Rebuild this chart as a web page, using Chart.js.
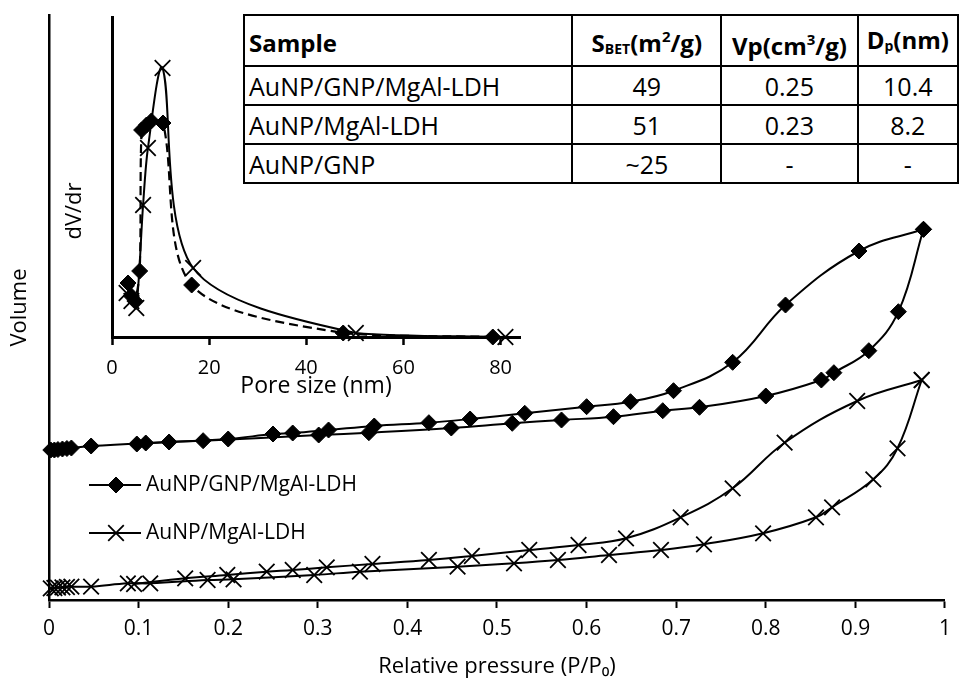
<!DOCTYPE html>
<html>
<head>
<meta charset="utf-8">
<script src="https://cdn.jsdelivr.net/npm/chart.js@4.4.0/dist/chart.umd.min.js"></script>
<style>
  html, body { margin: 0; padding: 0; background: #fff; }
  #marco { position: relative; width: 959px; height: 680px; font-family: "Open Sans", sans-serif; }
  canvas { position: absolute; left: 0; top: 0; }
  #tablaBET {
    position: absolute; left: 243px; top: 14px;
    border-collapse: collapse; background: #fff; color: #000;
    font-family: "Open Sans", sans-serif; font-size: 25px;
  }
  #tablaBET td { border: 2.5px solid #000; padding: 0 4px; height: 37px; line-height: 30px; text-align: center; white-space: nowrap; }
  #tablaBET td:first-child { text-align: left; }
  #tablaBET tr:first-child td { font-weight: bold; font-size: 24px; height: 45px; padding-top: 4px; }
  #tablaBET sub { font-size: 14px; vertical-align: -2px; }
  #tablaBET sup { font-size: 15px; vertical-align: 10px; }
</style>
</head>
<body>
<div id="marco">
  <canvas id="graficaIsoterma" width="959" height="680"></canvas>
  <canvas id="graficaPoros" width="540" height="400"></canvas>
  <table id="tablaBET">
    <tr><td style="width:323px">Sample</td><td style="width:141px">S<sub>BET</sub>(m<sup>2</sup>/g)</td><td style="width:127px">Vp(cm<sup>3</sup>/g)</td><td style="width:91px">D<sub>p</sub>(nm)</td></tr>
    <tr><td>AuNP/GNP/MgAl-LDH</td><td>49</td><td>0.25</td><td>10.4</td></tr>
    <tr><td>AuNP/MgAl-LDH</td><td>51</td><td>0.23</td><td>8.2</td></tr>
    <tr><td>AuNP/GNP</td><td>~25</td><td>-</td><td>-</td></tr>
  </table>
</div>
<script>
/**
 * Isotermas N2 + distribucion de poros
 */

const muestras = ['AuNP/GNP/MgAl-LDH', 'AuNP/MgAl-LDH'];

// isoterma AuNP/GNP/MgAl-LDH (adsorcion y desorcion)
const presionGNPads = [0.002, 0.006, 0.010, 0.015, 0.020, 0.025, 0.047, 0.108, 0.172, 0.301, 0.357, 0.449, 0.517, 0.572, 0.630, 0.685, 0.726, 0.800, 0.862, 0.876, 0.915, 0.948, 0.976];
const volGNPads = [150, 150, 150.5, 151, 151.5, 152, 154, 157, 159.3, 165, 167.3, 172, 176.7, 180, 183.3, 189.3, 192.7, 204, 220, 227.3, 249.3, 288.3, 370.7];
const presionGNPdes = [0.904, 0.822, 0.763, 0.697, 0.649, 0.600, 0.531, 0.470, 0.424, 0.363, 0.312, 0.272, 0.250, 0.200, 0.134, 0.098];
const volGNPdes = [349, 295, 237.7, 209.3, 198.3, 193.3, 186.7, 181, 177.3, 174, 170, 167, 166, 161, 158, 156];

// isoterma AuNP/MgAl-LDH
const presionLDHads = [0.002, 0.006, 0.010, 0.015, 0.020, 0.025, 0.047, 0.088, 0.113, 0.177, 0.206, 0.296, 0.347, 0.456, 0.519, 0.568, 0.625, 0.683, 0.731, 0.797, 0.856, 0.874, 0.920, 0.947, 0.974];
const volLDHads = [11.7, 12, 12.3, 12.7, 13, 13.3, 13.3, 16.7, 16.7, 20, 20.7, 25, 28.3, 33.3, 36.7, 40, 45, 50, 55.7, 66.7, 82.7, 92.7, 120.7, 151.7, 220];
const presionLDHdes = [0.902, 0.821, 0.763, 0.705, 0.644, 0.591, 0.536, 0.472, 0.424, 0.361, 0.310, 0.272, 0.243, 0.199, 0.152, 0.095];
const volLDHdes = [199, 157.3, 111.7, 82.7, 61.7, 55, 50, 44, 40, 36, 32.7, 30, 28.3, 25, 21.7, 16];

// distribucion de tamano de poro (dV/dr)
const poroGNP = [3.3, 4.0, 4.7, 5.7, 6.1, 7.1, 8.1, 10.5, 16.4, 47.6, 78.4];
const dvdrGNP = [54, 41, 36, 66, 207, 212, 216, 214, 52, 4, 0];
const poroLDH = [3.0, 4.0, 5.0, 6.4, 7.4, 10.4, 16.7, 50.2, 81.0];
const dvdrLDH = [44, 36, 29, 132, 189, 269, 69, 4, 0];

const ticksPresion = [0, 0.1, 0.2, 0.3, 0.4, 0.5, 0.6, 0.7, 0.8, 0.9, 1];
const ticksPoro = [0, 20, 40, 60, 80];

const puntos = (xs, ys) => xs.map((x, i) => ({ x: x, y: ys[i] }));
// la desorcion arranca en el ultimo punto de la adsorcion
const rama = (xa, ya, xd, yd) => puntos([xa[xa.length - 1]].concat(xd), [ya[ya.length - 1]].concat(yd));

const fuente = '"Open Sans", sans-serif';
const negro = '#000';

const estiloDiamante = { pointStyle: 'rectRot', pointRadius: 8, pointBorderWidth: 1, pointBackgroundColor: negro, pointBorderColor: negro };
const estiloCruz = { pointStyle: 'crossRot', pointRadius: 11, pointBorderWidth: 1.8, pointBackgroundColor: negro, pointBorderColor: negro };

function serie(data, estilo, extra) {
    return Object.assign({
        data: data,
        showLine: true,
        borderColor: negro,
        borderWidth: 2,
        tension: 0.4,
        clip: false
    }, estilo, extra || {});
}

// leyenda dibujada dentro del area de la grafica
const leyendaDentro = {
    id: 'leyendaDentro',
    afterDatasetsDraw(chart) {
        const { ctx, chartArea } = chart;
        const estilos = [estiloDiamante, estiloCruz];
        ctx.save();
        muestras.forEach((nombre, i) => {
            const y = chartArea.top + 470 + i * 48;
            const x0 = chartArea.left + 40;
            ctx.strokeStyle = negro;
            ctx.fillStyle = negro;
            ctx.lineWidth = 2;
            ctx.beginPath();
            ctx.moveTo(x0, y);
            ctx.lineTo(x0 + 52, y);
            ctx.stroke();
            ctx.lineWidth = estilos[i].pointBorderWidth;
            Chart.helpers.drawPoint(ctx, {
                pointStyle: estilos[i].pointStyle,
                radius: estilos[i].pointRadius,
                borderWidth: estilos[i].pointBorderWidth,
                rotation: 0
            }, x0 + 27, y);
            ctx.font = '21px ' + fuente;
            ctx.textBaseline = 'middle';
            ctx.textAlign = 'left';
            ctx.fillText(nombre, x0 + 57, y);
        });
        ctx.restore();
    }
};

// etiqueta dV/dr del recuadro
const etiquetaDVdr = {
    id: 'etiquetaDVdr',
    afterDraw(chart) {
        const { ctx, chartArea } = chart;
        ctx.save();
        ctx.translate(chartArea.left - 37, chartArea.top + 194);
        ctx.rotate(-Math.PI / 2);
        ctx.font = '22px ' + fuente;
        ctx.fillStyle = negro;
        ctx.textAlign = 'center';
        ctx.textBaseline = 'middle';
        ctx.fillText('dV/dr', 0, 0);
        ctx.restore();
    }
};

const graficaIsoterma = new Chart(document.getElementById('graficaIsoterma').getContext('2d'), {
    type: 'scatter',
    data: {
        datasets: [
            serie(puntos(presionGNPads, volGNPads), estiloDiamante, { label: muestras[0] }),
            serie(rama(presionGNPads, volGNPads, presionGNPdes, volGNPdes), estiloDiamante, { label: muestras[0] }),
            serie(puntos(presionLDHads, volLDHads), estiloCruz, { label: muestras[1] }),
            serie(rama(presionLDHads, volLDHads, presionLDHdes, volLDHdes), estiloCruz, { label: muestras[1] })
        ]
    },
    options: {
        responsive: false,
        animation: false,
        events: [],
        layout: { padding: { top: 15, right: 5, left: 0, bottom: 0 } },
        plugins: { legend: { display: false }, tooltip: { enabled: false } },
        scales: {
            x: {
                type: 'linear',
                min: 0,
                max: 1,
                afterBuildTicks: s => { s.ticks = ticksPresion.map(v => ({ value: v })); },
                afterFit: s => { s.height = 80; },
                grid: { display: true, drawOnChartArea: false, drawTicks: true, tickLength: 8, tickWidth: 2, tickColor: negro },
                border: { display: true, color: negro, width: 2.5 },
                ticks: { color: negro, font: { family: fuente, size: 21 }, padding: 8, maxRotation: 0, callback: v => String(v) },
                title: { display: true, text: 'Relative pressure (P/P₀)', color: negro, font: { family: fuente, size: 22 }, padding: { top: 0, bottom: 0 } }
            },
            y: {
                min: 0,
                max: 585,
                afterFit: s => { s.width = 49; },
                grid: { display: false },
                border: { display: true, color: negro, width: 2.5 },
                ticks: { display: false },
                title: { display: true, text: 'Volume', color: negro, font: { family: fuente, size: 22 }, padding: { top: 7, bottom: 0 } }
            }
        }
    },
    plugins: [leyendaDentro]
});

const graficaPoros = new Chart(document.getElementById('graficaPoros').getContext('2d'), {
    type: 'scatter',
    data: {
        datasets: [
            serie(puntos(poroGNP, dvdrGNP), estiloDiamante, { label: muestras[0], borderDash: [9, 5], borderWidth: 2.2, tension: 0.3 }),
            serie(puntos(poroLDH, dvdrLDH), estiloCruz, { label: muestras[1], borderWidth: 2, tension: 0.3 })
        ]
    },
    options: {
        responsive: false,
        animation: false,
        events: [],
        layout: { padding: { top: 17, right: 20, left: 112, bottom: 0 } },
        plugins: { legend: { display: false }, tooltip: { enabled: false } },
        scales: {
            x: {
                type: 'linear',
                min: 0,
                max: 84,
                afterBuildTicks: s => { s.ticks = ticksPoro.map(v => ({ value: v })); },
                afterFit: s => { s.height = 63; },
                grid: { display: true, drawOnChartArea: false, drawTicks: true, tickLength: 8, tickWidth: 2.5, tickColor: negro },
                border: { display: true, color: negro, width: 3 },
                ticks: { color: negro, font: { family: fuente, size: 20 }, padding: 11, maxRotation: 0 },
                title: { display: true, text: 'Pore size (nm)', color: negro, font: { family: fuente, size: 23 }, padding: { top: 0, bottom: 0 } }
            },
            y: {
                min: 0,
                max: 320,
                afterFit: s => { s.width = 0; },
                grid: { display: false },
                border: { display: true, color: negro, width: 3 },
                ticks: { display: false }
            }
        }
    },
    plugins: [etiquetaDVdr]
});
</script>
</body>
</html>
